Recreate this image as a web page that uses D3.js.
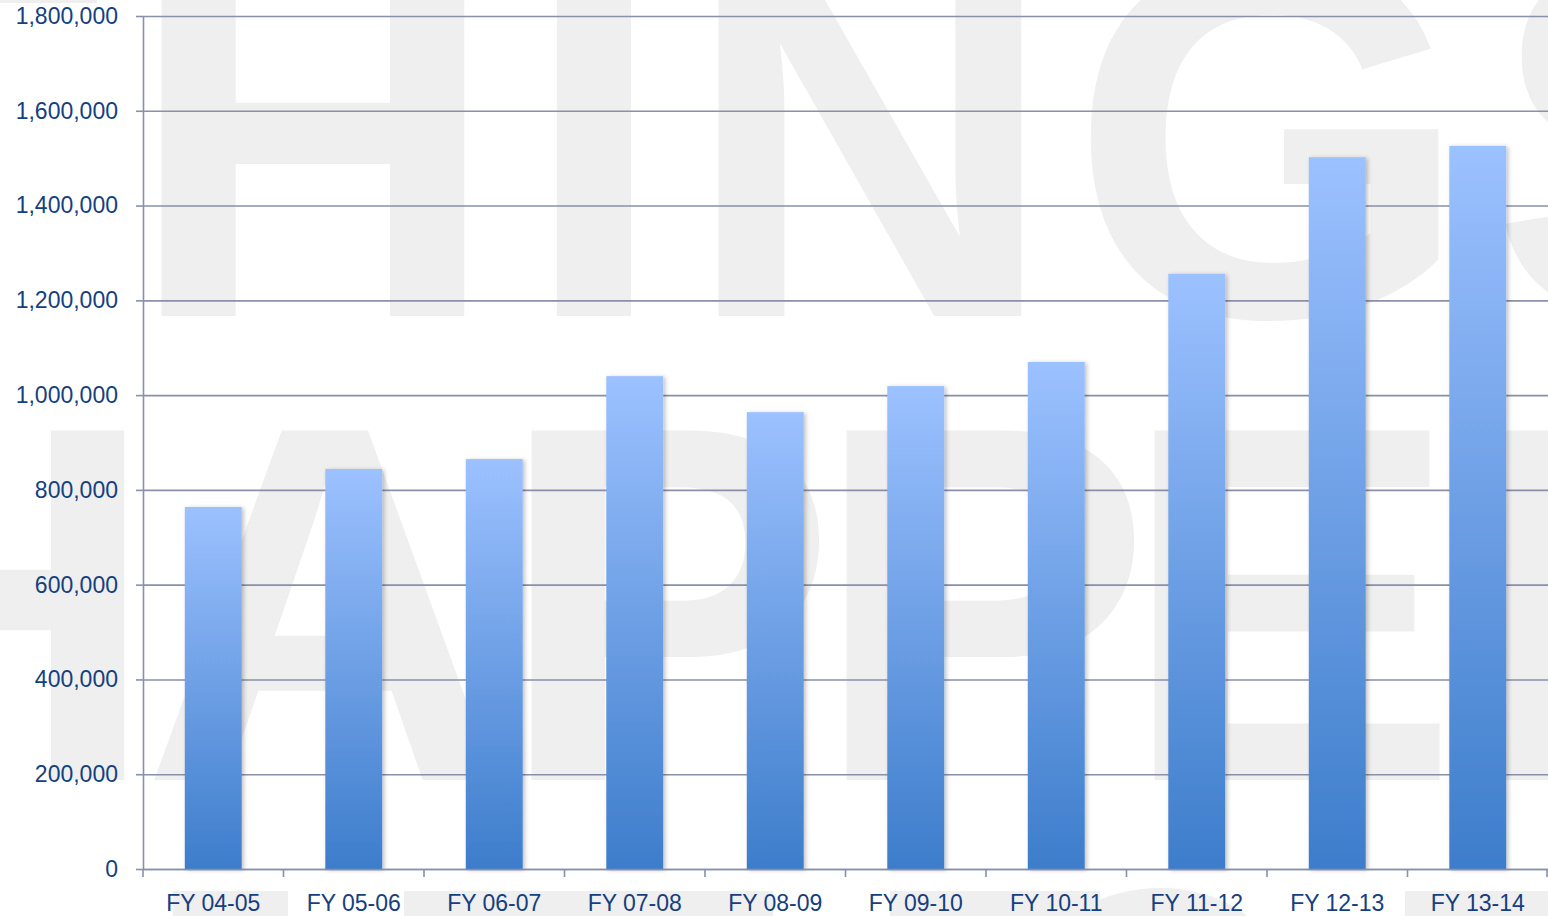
<!DOCTYPE html>
<html>
<head>
<meta charset="utf-8">
<script src="https://cdn.jsdelivr.net/npm/d3@7"></script>
<style>
  html, body { margin: 0; padding: 0; background: #fff; }
  svg { display: block; }
</style>
</head>
<body>
<div id="viscontainer"></div>
<script>
const categories = ["FY 04-05", "FY 05-06", "FY 06-07", "FY 07-08", "FY 08-09",
  "FY 09-10", "FY 10-11", "FY 11-12", "FY 12-13", "FY 13-14"];
const values = [764000, 844000, 865000, 1040000, 964000,
  1019000, 1070000, 1256000, 1502000, 1526000];
const yTicks = [0, 200000, 400000, 600000, 800000, 1000000, 1200000, 1400000, 1600000, 1800000];

const width = 1548;
const height = 916;
const marginTop = 16;
const marginRight = 0;
const marginBottom = 47;
const marginLeft = 143;

const labelColor = "#15407f";
const gridColor = "#8890aa";

const svg = d3.create("svg").attr("width", width).attr("height", height);
document.getElementById("viscontainer").append(svg.node());

const defs = svg.append("defs");
const grad = defs.append("linearGradient")
  .attr("id", "barGrad").attr("x1", 0).attr("y1", 0).attr("x2", 0).attr("y2", 1);
grad.append("stop").attr("offset", "0%").attr("stop-color", "#9cc1ff");
grad.append("stop").attr("offset", "100%").attr("stop-color", "#3d7dcb");
const shadow = defs.append("filter").attr("id", "barShadow")
  .attr("x", "-20%").attr("y", "-5%").attr("width", "150%").attr("height", "110%");
shadow.append("feDropShadow")
  .attr("dx", 2).attr("dy", 1).attr("stdDeviation", 2)
  .attr("flood-color", "#000").attr("flood-opacity", 0.25);

// watermark behind the chart
const wm = svg.append("g").attr("fill", "#efefef")
  .attr("font-family", "'Liberation Sans', Arial, sans-serif")
  .attr("font-weight", "bold").attr("text-anchor", "middle");
const line1 = [["H", 313], ["I", 594], ["N", 870], ["G", 1270], ["S", 1662]];
const line2 = [["H", -25], ["A", 325], ["P", 667], ["P", 982], ["E", 1290], ["N", 1648]];
wm.selectAll("text.l1").data(line1).join("text").attr("class", "l1")
  .attr("x", (d) => d[1]).attr("y", 316).attr("font-size", 515).text((d) => d[0]);
wm.selectAll("text.l2").data(line2).join("text").attr("class", "l2")
  .attr("x", (d) => d[1]).attr("y", 780).attr("font-size", 508).text((d) => d[0]);
// tops of a third line peeking out under the axis
[[173, 288], [404, 773], [890, 1100], [1405, 1548]].forEach(([a, b]) => {
  wm.append("rect").attr("x", a).attr("y", 891).attr("width", b - a).attr("height", 30);
});
wm.append("ellipse").attr("cx", 1160).attr("cy", 960).attr("rx", 110).attr("ry", 72);
wm.append("rect").attr("x", 0).attr("y", 0).attr("width", 97).attr("height", 3);

const x = d3.scaleBand()
  .domain(categories)
  .range([marginLeft, width - marginRight])
  .padding(0);

const y = d3.scaleLinear()
  .domain([0, 1800000])
  .range([height - marginBottom, marginTop]);

// gridlines
svg.append("g")
  .attr("transform", `translate(${marginLeft}, 0)`)
  .call(d3.axisLeft(y).tickValues(yTicks).tickSize(-(width - marginLeft)).tickFormat(""))
  .call((g) => g.select(".domain").remove())
  .call((g) => g.selectAll("line").attr("stroke", gridColor).attr("stroke-width", 1.6));

// bars
const barW = x.bandwidth() * 0.405;
svg.append("g")
  .selectAll("rect")
  .data(values)
  .join("rect")
  .attr("x", (d, i) => x(categories[i]) + (x.bandwidth() - barW) / 2)
  .attr("y", (d) => y(d))
  .attr("width", barW)
  .attr("height", (d) => y(0) - y(d))
  .attr("fill", "url(#barGrad)")
  .attr("filter", "url(#barShadow)");

// y axis
const yAxis = svg.append("g")
  .attr("transform", `translate(${marginLeft}, 0)`)
  .call(d3.axisLeft(y).tickValues(yTicks).tickSize(7).tickPadding(18)
    .tickSizeOuter(0).tickFormat(d3.format(",")));
yAxis.select(".domain").attr("stroke", gridColor).attr("stroke-width", 1.6);
yAxis.selectAll("line").attr("stroke", gridColor).attr("stroke-width", 1.6);
yAxis.selectAll("text")
  .attr("fill", labelColor)
  .attr("font-family", "'Liberation Sans', Arial, sans-serif")
  .attr("font-size", 23);

// x axis
const xAxis = svg.append("g")
  .attr("transform", `translate(0, ${height - marginBottom})`)
  .call(d3.axisBottom(x).tickSize(0).tickPadding(26).tickSizeOuter(0));
xAxis.select(".domain").attr("stroke", gridColor).attr("stroke-width", 1.6);
xAxis.selectAll("text")
  .attr("fill", labelColor)
  .attr("font-family", "'Liberation Sans', Arial, sans-serif")
  .attr("font-size", 23);
const bounds = categories.map((c) => x(c)).concat([x.range()[1] - 1]);
xAxis.selectAll("line.bound")
  .data(bounds)
  .join("line")
  .attr("class", "bound")
  .attr("x1", (d) => d).attr("x2", (d) => d)
  .attr("y1", 0).attr("y2", 8)
  .attr("stroke", gridColor).attr("stroke-width", 1.6);
</script>
</body>
</html>
